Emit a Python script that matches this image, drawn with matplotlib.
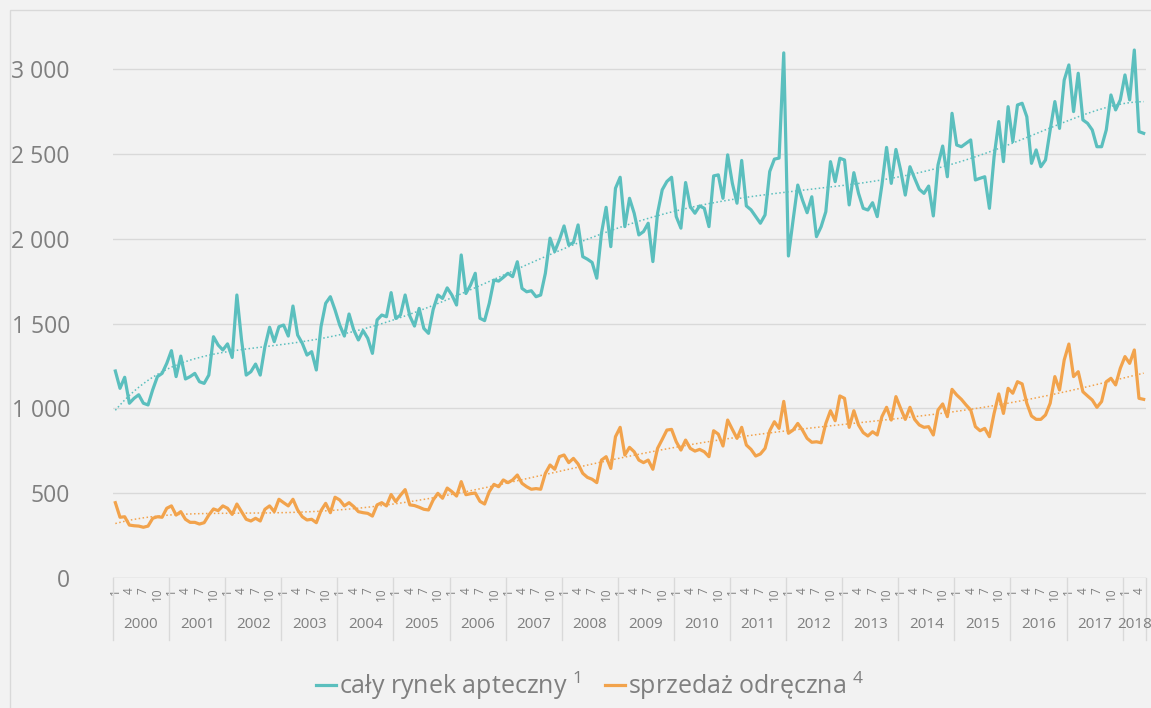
import numpy as np
import matplotlib
matplotlib.use("Agg")
import matplotlib.pyplot as plt
from matplotlib.patches import Rectangle

plt.rcParams['font.family'] = ['Open Sans', 'DejaVu Sans']
plt.rcParams['mathtext.fontset'] = 'custom'
plt.rcParams['mathtext.rm'] = 'Open Sans'
plt.rcParams['mathtext.it'] = 'Open Sans'

# monthly values, Jan 2000 - May 2018
rynek = [
    1220, 1118, 1183, 1030, 1059, 1080, 1030, 1020, 1110, 1187, 1206, 1265,
    1340, 1187, 1308, 1173, 1187, 1206, 1157, 1147, 1196, 1422, 1373, 1344,
    1380, 1300, 1668, 1403, 1196, 1216, 1261, 1196, 1363, 1478, 1393, 1481,
    1491, 1426, 1603, 1432, 1383, 1314, 1334, 1226, 1481, 1619, 1658, 1580,
    1491, 1426, 1556, 1462, 1403, 1458, 1413, 1324, 1521, 1550, 1540, 1682,
    1530, 1550, 1668, 1544, 1485, 1589, 1471, 1442, 1583, 1668, 1648, 1710,
    1668, 1609, 1904, 1677, 1727, 1796, 1531, 1517, 1619, 1756, 1750, 1772,
    1796, 1776, 1864, 1707, 1687, 1693, 1658, 1668, 1796, 2003, 1924, 1993,
    2075, 1963, 1977, 2081, 1894, 1879, 1860, 1767, 2032, 2185, 1953, 2297,
    2362, 2071, 2238, 2150, 2022, 2042, 2091, 1865, 2150, 2288, 2337, 2362,
    2130, 2062, 2331, 2189, 2150, 2193, 2179, 2071, 2370, 2376, 2238, 2494,
    2327, 2209, 2461, 2193, 2170, 2130, 2091, 2140, 2396, 2469, 2475, 3095,
    1898, 2110, 2316, 2228, 2153, 2247, 2012, 2071, 2159, 2454, 2336, 2474,
    2464, 2199, 2389, 2267, 2179, 2169, 2212, 2130, 2316, 2538, 2326, 2526,
    2405, 2257, 2424, 2356, 2291, 2267, 2310, 2134, 2434, 2546, 2365, 2739,
    2552, 2542, 2562, 2582, 2346, 2356, 2365, 2179, 2483, 2690, 2454, 2778,
    2572, 2788, 2798, 2719, 2444, 2523, 2424, 2464, 2641, 2808, 2650, 2935,
    3024, 2749, 2975, 2700, 2680, 2641, 2542, 2542, 2641, 2847, 2759, 2818,
    2965, 2818, 3112, 2631, 2621,
]

odreczna = [
    444, 358, 361, 312, 308, 306, 299, 306, 352, 361, 358, 411,
    425, 371, 391, 346, 328, 328, 318, 326, 371, 407, 397, 425,
    411, 375, 436, 391, 346, 336, 352, 336, 405, 425, 391, 464,
    444, 425, 464, 401, 361, 342, 346, 326, 397, 440, 385, 476,
    460, 425, 444, 421, 391, 385, 381, 365, 431, 444, 425, 492,
    450, 488, 521, 431, 427, 417, 405, 401, 460, 499, 470, 530,
    509, 483, 568, 491, 497, 501, 452, 436, 509, 552, 538, 578,
    562, 578, 607, 558, 538, 523, 527, 523, 617, 666, 641, 715,
    725, 680, 705, 672, 617, 593, 582, 562, 695, 715, 646, 833,
    888, 725, 770, 744, 695, 680, 695, 641, 764, 817, 872, 876,
    803, 754, 813, 764, 748, 758, 744, 715, 868, 848, 778, 931,
    876, 823, 888, 784, 758, 719, 731, 764, 868, 921, 882, 1041,
    853, 872, 911, 872, 823, 800, 803, 797, 911, 986, 927, 1073,
    1059, 888, 986, 902, 857, 837, 862, 843, 951, 1006, 931, 1069,
    1000, 935, 1006, 935, 902, 888, 892, 843, 990, 1026, 951, 1112,
    1079, 1053, 1020, 990, 892, 868, 882, 833, 970, 1085, 970, 1118,
    1089, 1157, 1144, 1030, 955, 935, 935, 961, 1030, 1187, 1108, 1285,
    1379, 1187, 1216, 1098, 1073, 1049, 1006, 1040, 1157, 1177, 1138, 1236,
    1305, 1265, 1344, 1059, 1053,
]

years = list(range(2000, 2019))
month_labels = [1, 4, 7, 10]
labels = ["cały rynek apteczny $^{1}$", "sprzedaż odręczna $^{4}$"]
yticks = [0, 500, 1000, 1500, 2000, 2500, 3000]

teal = '#5bbfbe'
orange = '#f2a34c'
grey = '#7f7f7f'
bg = '#f2f2f2'

W, H = 1151, 708
fig = plt.figure(figsize=(W / 100, H / 100), dpi=100, facecolor=bg)
fig.patches.append(Rectangle((10 / W, -0.1), 1.2, 1 - 10 / H + 0.1, transform=fig.transFigure,
                             fill=False, edgecolor='#d9d9d9', lw=1))

ax_left, ax_right, ax_bot, ax_top = 113, 1146, 578, 26.6
ax = fig.add_axes([ax_left / W, 1 - ax_bot / H, (ax_right - ax_left) / W, (ax_bot - ax_top) / H])
ax.set_facecolor(bg)

n = len(rynek)
x = np.arange(n)
months = [(i % 12) + 1 for i in range(n)]

for vals, c, lab in [(rynek, teal, labels[0]), (odreczna, orange, labels[1])]:
    ax.plot(x, vals, color=c, lw=2.3, label=lab, solid_joinstyle='round', zorder=3)
    trend = np.polynomial.Polynomial.fit(x, vals, 6)
    ax.plot(x, trend(x), color=c, lw=1.1, ls=(0, (1, 1.6)), zorder=2)

ax.set_xlim(-0.5, n - 0.5)
ax.set_ylim(0, 3250)
ax.set_yticks(yticks)
ax.set_yticklabels([f"{v:,}".replace(",", " ") for v in yticks], fontsize=16.5, color=grey)
ax.tick_params(axis='y', length=0, pad=31)
ax.grid(axis='y', color='#d9d9d9', lw=1)
ax.set_axisbelow(True)
for s in ax.spines.values():
    s.set_visible(False)

# month ticks
mt = [i for i in range(n) if months[i] in month_labels]
ax.set_xticks(mt)
ax.set_xticklabels([str(months[i]) for i in mt], rotation=90, fontsize=8.5, color=grey)
ax.tick_params(axis='x', length=0, pad=7)
ax.axhline(0, color='#d9d9d9', lw=1)

# year labels and separators
tr = ax.get_xaxis_transform()
for k, yr in enumerate(years):
    start = k * 12 - 0.5
    end = min(start + 12, n - 0.5)
    ax.text((start + end) / 2, -0.085, str(yr), transform=tr, ha='center', va='center',
            fontsize=11, color=grey)
    ax.plot([start, start], [0, -0.113], transform=tr, color='#d9d9d9', lw=1, clip_on=False)
ax.plot([n - 0.5, n - 0.5], [0, -0.113], transform=tr, color='#d9d9d9', lw=1, clip_on=False)

fig.legend(loc='center', bbox_to_anchor=(590 / W, 1 - 686 / H), ncol=2, frameon=False,
           fontsize=18, labelcolor=grey, handlelength=0.8, handletextpad=0.1, columnspacing=1.0)

fig.savefig("out.png", dpi=100, facecolor=bg)
